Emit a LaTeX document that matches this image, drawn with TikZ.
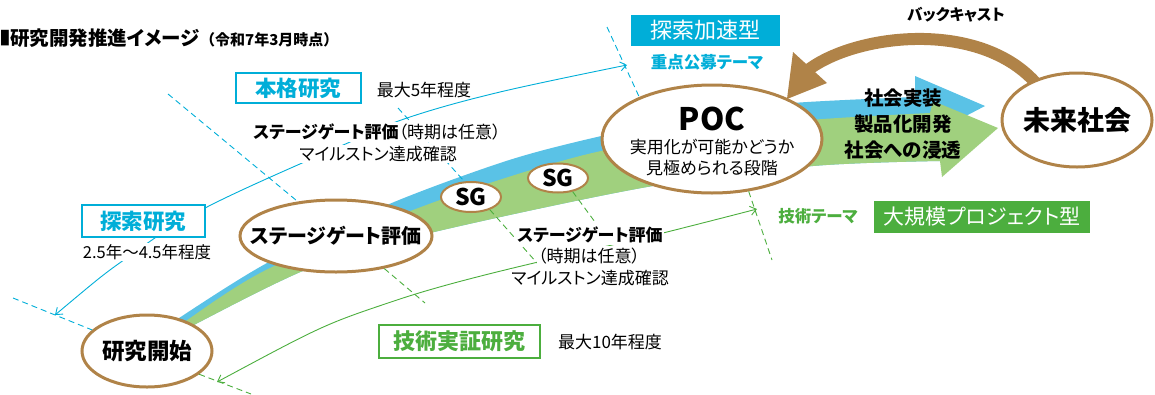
\documentclass[tikz,border=0pt]{standalone}
\usepackage{fontspec}
\setmainfont{Noto Sans CJK JP}[RawFeature=+palt]
\usetikzlibrary{shapes.geometric,arrows.meta}
\definecolor{cy}{RGB}{0,174,216}
\definecolor{bandblue}{RGB}{90,194,230}
\definecolor{gr}{RGB}{76,174,62}
\definecolor{bandgreen}{RGB}{160,208,126}
\definecolor{br}{RGB}{176,131,72}
\newcommand\myfs[1]{\fontsize{#1}{#1}\selectfont}
\begin{document}
\begin{tikzpicture}[x=1pt,y=-1pt,
  txt/.style={inner sep=0},
  wtxt/.style={inner sep=1.5, fill=white},
  oval/.style={ellipse, draw=br, line width=3, fill=white, inner sep=0},
  dashc/.style={draw=cy, line width=0.9, dash pattern=on 6pt off 4pt},
  dashg/.style={draw=gr, line width=0.9, dash pattern=on 6pt off 4pt},
  spanc/.style={draw=cy, line width=0.9},
  spang/.style={draw=gr, line width=0.9},
  tips/.style={{Straight Barb[length=6pt,width=9pt]}-{Straight Barb[length=6pt,width=9pt]}},
  outbox/.style={line width=2, fill=white, inner sep=0}]
\useasboundingbox (0,0) rectangle (1155,394);

% bands
\fill[bandblue] plot[smooth,tension=0.5] coordinates {(160,333) (173,322) (267,263) (387,205) (500,163) (580,141) (700,115) (793,103) (915,97)}
  -- (915,76) -- (985,106) -- (962,118) -- (945,150)
  -- plot[smooth,tension=0.5] coordinates {(940,161) (813,166) (647,187) (430,233) (310,268) (188,328) (172,338)} -- cycle;
\fill[bandgreen] plot[smooth,tension=0.5] coordinates {(168,334) (180,325) (270,268) (440,200) (580,156) (700,133) (810,120) (930,113)}
  -- (933,101) -- (998,128) -- (942,177) -- (940,161)
  -- plot[smooth,tension=0.5] coordinates {(940,161) (813,166) (647,187) (430,233) (310,268) (188,328) (172,338)} -- cycle;

% backcast shaft
\coordinate (bcS) at (808,70);
\coordinate (bcE) at (1043,92);
\draw[br, line width=12] (bcS) .. controls (858,32) and (990,18) .. (bcE);

% ellipses
\node[oval, minimum width=130, minimum height=72] (start) at (147,351) {};
\node[oval, minimum width=192, minimum height=72] (sgmain) at (336,236) {};
\node[oval, line width=2, minimum width=60, minimum height=30] (sg1) at (471,197) {};
\node[oval, line width=2, minimum width=60, minimum height=29] (sg2) at (558,178) {};
\node[oval, minimum width=220, minimum height=108] (poc) at (712,139) {};
\node[oval, minimum width=150, minimum height=94] (future) at (1077,120) {};

% backcast head
\coordinate (bh1) at (793,52);
\coordinate (bh2) at (827,83);
\coordinate (bh3) at (787,99);
\fill[br] (bh1) -- (bh2) -- (bh3) -- cycle;

% dashed markers
\coordinate (d1a) at (13,298);
\coordinate (d2a) at (168,94);
\coordinate (d3a) at (398,108);
\coordinate (d4a) at (607,27);
\draw[dashc] (d1a) -- (start.159);
\draw[dashc] (d2a) -- (sgmain.138);
\draw[dashc] (d3a) -- (sg1.113);
\draw[dashc] (d4a) -- (poc.150);
\coordinate (g1b) at (251,394);
\coordinate (g2b) at (425,303);
\coordinate (g3b) at (537,263);
\coordinate (g4b) at (595,222);
\coordinate (g5b) at (772,260);
\draw[dashg] (start.-24) -- (g1b);
\draw[dashg] (sgmain.-34) -- (g2b);
\draw[dashg] (sg1.-34) -- (g3b);
\draw[dashg] (sg2.-43) -- (g4b);
\draw[dashg] (poc.-55) -- (g5b);

% span lines
\coordinate (aL) at (55,315);
\coordinate (aR) at (627,65);
\draw[spanc, tips] plot[smooth, tension=0.6] coordinates {(aL) (128,257) (207,207) (350,142) (410,117) (500,92) (aR)};
\coordinate (cL) at (217,382);
\coordinate (cR) at (757,209);
\draw[spang, tips] plot[smooth, tension=0.6] coordinates {(cL) (400,299) (667,232) (cR)};

% ellipse texts
\node[txt] (startT) at (147,351) {\myfs{22.5}\bfseries 研究開始};
\node[txt] (sgmainT) at (336,236) {\myfs{20}\bfseries ステージゲート評価};
\node[txt] (sg1T) at (471,197) {\myfs{23}\bfseries SG};
\node[txt] (sg2T) at (558,178) {\myfs{23}\bfseries SG};
\node[txt] (pocT) at (712,119) {\myfs{31}\bfseries POC};
\node[txt] (poc1) at (712,147) {\myfs{17}実用化が可能かどうか};
\node[txt] (poc2) at (712,168) {\myfs{17}見極められる段階};
\node[txt] (futureT) at (1077,120) {\myfs{27}\bfseries 未来社会};

% title
\node[txt, anchor=west] (sq) at (0,38) {\myfs{19.5}\scalebox{0.5}[1]{■}};
\node[txt, anchor=west] (title) at (sq.east) {\myfs{19.5}\bfseries 研究開発推進イメージ};
\node[txt, anchor=base west] (titlesub) at (title.base east) {\myfs{15}\bfseries\addfontfeatures{RawFeature=-palt}（令和7年3月時点）};

% labels
\node[wtxt] (sgtu1) at (377,132) {\myfs{17}\textbf{ステージゲート評価}（時期は任意）};
\node[wtxt] (sgtu2) at (378,154) {\myfs{17}マイルストン達成確認};
\node[wtxt] (sgtl1) at (590,235) {\myfs{17}\bfseries ステージゲート評価};
\node[wtxt] (sgtl2) at (589,256) {\myfs{17}（時期は任意）};
\node[wtxt] (sgtl3) at (590,278) {\myfs{17}マイルストン達成確認};

\node[outbox, draw=cy, text=cy, minimum width=125, minimum height=30] (honkaku) at (298,88) {\myfs{21.5}\bfseries 本格研究};
\node[txt] (max5) at (424,90) {\myfs{17}最大5年程度};
\node[outbox, draw=cy, text=cy, minimum width=123, minimum height=32] (tansaku) at (143,221) {\myfs{21.5}\bfseries 探索研究};
\node[wtxt] (yrs) at (147,252) {\myfs{16.5}2.5年～4.5年程度};
\node[outbox, draw=gr, text=gr, minimum width=161, minimum height=33] (gijutsu) at (459,341) {\myfs{22}\bfseries 技術実証研究};
\node[txt] (max10) at (610,342) {\myfs{17}最大10年程度};
\node[fill=cy, minimum width=149, minimum height=31, inner sep=0, text=white] (kasoku) at (705,30) {\myfs{22}探索加速型};
\node[txt, text=cy] (juten) at (707,62) {\myfs{16.5}\bfseries 重点公募テーマ};
\node[fill=gr, minimum width=216, minimum height=32, inner sep=0, text=white] (daikibo) at (982,217) {\myfs{21}大規模プロジェクト型};
\node[txt, text=gr] (gtheme) at (818,216) {\myfs{16.5}\bfseries 技術テーマ};
\node[txt] (backcast) at (956,15) {\myfs{15.5}\bfseries バックキャスト};
\node[txt] (soc1) at (903,98) {\myfs{19.5}\bfseries 社会実装};
\node[txt] (soc2) at (903,124) {\myfs{19.5}\bfseries 製品化開発};
\node[txt] (soc3) at (903,150) {\myfs{19.5}\bfseries 社会への浸透};
\end{tikzpicture}
\end{document}
